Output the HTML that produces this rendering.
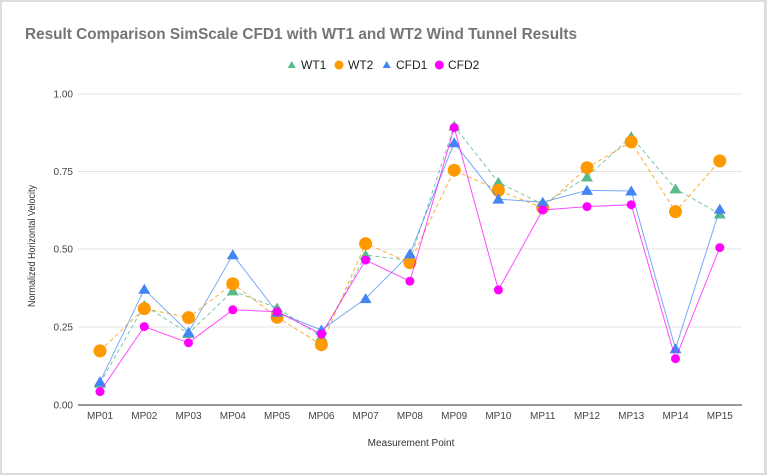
<!DOCTYPE html>
<html><head><meta charset="utf-8"><style>
html,body{margin:0;padding:0;background:#fff;}
svg{display:block;}
text{font-family:"Liberation Sans",Arial,sans-serif;}
</style></head><body>
<svg width="767" height="475" viewBox="0 0 767 475" xmlns="http://www.w3.org/2000/svg">
<rect x="0" y="0" width="767" height="475" fill="#dcdcdc"/>
<rect x="2" y="2" width="762" height="471" fill="#ffffff"/>
<text x="25" y="39" font-size="16" font-weight="bold" fill="#757575" textLength="552" lengthAdjust="spacingAndGlyphs">Result Comparison SimScale CFD1 with WT1 and WT2 Wind Tunnel Results</text>
<!-- legend -->
<polygon points="291.7,61 287.7,68 295.7,68" fill="#57bb8a"/>
<text x="301" y="69" font-size="12" fill="#222">WT1</text>
<circle cx="339" cy="65" r="4.5" fill="#ff9900"/>
<text x="348" y="69" font-size="12" fill="#222">WT2</text>
<polygon points="386.7,61 382.7,68 390.7,68" fill="#4285f4"/>
<text x="396" y="69" font-size="12" fill="#222">CFD1</text>
<circle cx="439.3" cy="65" r="4.5" fill="#ff00ff"/>
<text x="448" y="69" font-size="12" fill="#222">CFD2</text>
<!-- grid -->
<g stroke="#e3e3e3" stroke-width="1">
<line x1="78" y1="94" x2="742" y2="94"/>
<line x1="78" y1="171.5" x2="742" y2="171.5"/>
<line x1="78" y1="249" x2="742" y2="249"/>
<line x1="78" y1="327" x2="742" y2="327"/>
</g>
<line x1="78" y1="405" x2="742" y2="405" stroke="#333" stroke-width="1"/>
<g font-size="10" fill="#444" text-anchor="end">
<text x="73" y="97.5">1.00</text>
<text x="73" y="175">0.75</text>
<text x="73" y="252.5">0.50</text>
<text x="73" y="330.5">0.25</text>
<text x="73" y="408.5">0.00</text>
</g>
<text transform="translate(35,246) rotate(-90)" font-size="10" fill="#333" text-anchor="middle" textLength="122" lengthAdjust="spacingAndGlyphs">Normalized Horizontal Velocity</text>
<g font-size="10" fill="#444" text-anchor="middle">
<text x="100" y="419">MP01</text>
<text x="144.3" y="419">MP02</text>
<text x="188.5" y="419">MP03</text>
<text x="232.8" y="419">MP04</text>
<text x="277.1" y="419">MP05</text>
<text x="321.4" y="419">MP06</text>
<text x="365.6" y="419">MP07</text>
<text x="409.9" y="419">MP08</text>
<text x="454.2" y="419">MP09</text>
<text x="498.4" y="419">MP10</text>
<text x="542.7" y="419">MP11</text>
<text x="587" y="419">MP12</text>
<text x="631.2" y="419">MP13</text>
<text x="675.5" y="419">MP14</text>
<text x="719.8" y="419">MP15</text>
</g>
<text x="411" y="446" font-size="10" fill="#333" text-anchor="middle">Measurement Point</text>

<!-- WT1 -->
<polyline fill="none" stroke="#57bb8a" stroke-width="1" stroke-dasharray="4,3" opacity="0.8" points="100,383.2 144.3,305.5 188.5,333.5 232.8,290.9 277.1,308 321.4,336.6 365.6,255.1 409.9,260.4 454.2,126 498.4,182.3 542.7,204.4 587,177 631.2,136.6 675.5,188.9 719.8,214"/>
<g fill="#57bb8a">
<polygon points="100,377.7 94,387.7 106,387.7"/>
<polygon points="144.3,300 138.3,310 150.3,310"/>
<polygon points="188.5,328 182.5,338 194.5,338"/>
<polygon points="232.8,285.4 226.8,295.4 238.8,295.4"/>
<polygon points="277.1,302.5 271.1,312.5 283.1,312.5"/>
<polygon points="321.4,331.1 315.4,341.1 327.4,341.1"/>
<polygon points="365.6,249.6 359.6,259.6 371.6,259.6"/>
<polygon points="409.9,254.9 403.9,264.9 415.9,264.9"/>
<polygon points="454.2,120.5 448.2,130.5 460.2,130.5"/>
<polygon points="498.4,176.8 492.4,186.8 504.4,186.8"/>
<polygon points="542.7,198.9 536.7,208.9 548.7,208.9"/>
<polygon points="587,171.5 581,181.5 593,181.5"/>
<polygon points="631.2,131.1 625.2,141.1 637.2,141.1"/>
<polygon points="675.5,183.4 669.5,193.4 681.5,193.4"/>
<polygon points="719.8,208.5 713.8,218.5 725.8,218.5"/>
</g>

<!-- WT2 -->
<polyline fill="none" stroke="#ff9900" stroke-width="1" stroke-dasharray="4,3" opacity="0.8" points="100,350.9 144.3,308.6 188.5,317.6 232.8,283.7 277.1,317.3 321.4,344.7 365.6,243.6 409.9,262.6 454.2,170.2 498.4,190.4 542.7,207.8 587,167.7 631.2,141.9 675.5,211.6 719.8,160.9"/>
<g fill="#ff9900">
<circle cx="100" cy="350.9" r="6.5"/>
<circle cx="144.3" cy="308.6" r="6.5"/>
<circle cx="188.5" cy="317.6" r="6.5"/>
<circle cx="232.8" cy="283.7" r="6.5"/>
<circle cx="277.1" cy="317.3" r="6.5"/>
<circle cx="321.4" cy="344.7" r="6.5"/>
<circle cx="365.6" cy="243.6" r="6.5"/>
<circle cx="409.9" cy="262.6" r="6.5"/>
<circle cx="454.2" cy="170.2" r="6.5"/>
<circle cx="498.4" cy="190.4" r="6.5"/>
<circle cx="542.7" cy="207.8" r="6.5"/>
<circle cx="587" cy="167.7" r="6.5"/>
<circle cx="631.2" cy="141.9" r="6.5"/>
<circle cx="675.5" cy="211.6" r="6.5"/>
<circle cx="719.8" cy="160.9" r="6.5"/>
</g>

<!-- CFD1 -->
<polyline fill="none" stroke="#4285f4" stroke-width="1" opacity="0.7" points="100,381.7 144.3,289.3 188.5,332.2 232.8,254.8 277.1,312.3 321.4,330 365.6,298.6 409.9,253.9 454.2,142.8 498.4,199.1 542.7,202.2 587,190.4 631.2,191 675.5,348.7 719.8,209.1"/>
<g fill="#4285f4">
<polygon points="100,376.2 94,386.2 106,386.2"/>
<polygon points="144.3,283.8 138.3,293.8 150.3,293.8"/>
<polygon points="188.5,326.7 182.5,336.7 194.5,336.7"/>
<polygon points="232.8,249.3 226.8,259.3 238.8,259.3"/>
<polygon points="277.1,306.8 271.1,316.8 283.1,316.8"/>
<polygon points="321.4,324.5 315.4,334.5 327.4,334.5"/>
<polygon points="365.6,293.1 359.6,303.1 371.6,303.1"/>
<polygon points="409.9,248.4 403.9,258.4 415.9,258.4"/>
<polygon points="454.2,137.3 448.2,147.3 460.2,147.3"/>
<polygon points="498.4,193.6 492.4,203.6 504.4,203.6"/>
<polygon points="542.7,196.7 536.7,206.7 548.7,206.7"/>
<polygon points="587,184.9 581,194.9 593,194.9"/>
<polygon points="631.2,185.5 625.2,195.5 637.2,195.5"/>
<polygon points="675.5,343.2 669.5,353.2 681.5,353.2"/>
<polygon points="719.8,203.6 713.8,213.6 725.8,213.6"/>
</g>

<!-- CFD2 -->
<polyline fill="none" stroke="#ff00ff" stroke-width="1" opacity="0.7" points="100,391.6 144.3,326.6 188.5,342.8 232.8,309.8 277.1,311.7 321.4,334.1 365.6,260.1 409.9,281.2 454.2,127.6 498.4,289.9 542.7,210 587,206.6 631.2,204.7 675.5,358.7 719.8,247.6"/>
<g fill="#ff00ff">
<circle cx="100" cy="391.6" r="4.5"/>
<circle cx="144.3" cy="326.6" r="4.5"/>
<circle cx="188.5" cy="342.8" r="4.5"/>
<circle cx="232.8" cy="309.8" r="4.5"/>
<circle cx="277.1" cy="311.7" r="4.5"/>
<circle cx="321.4" cy="334.1" r="4.5"/>
<circle cx="365.6" cy="260.1" r="4.5"/>
<circle cx="409.9" cy="281.2" r="4.5"/>
<circle cx="454.2" cy="127.6" r="4.5"/>
<circle cx="498.4" cy="289.9" r="4.5"/>
<circle cx="542.7" cy="210" r="4.5"/>
<circle cx="587" cy="206.6" r="4.5"/>
<circle cx="631.2" cy="204.7" r="4.5"/>
<circle cx="675.5" cy="358.7" r="4.5"/>
<circle cx="719.8" cy="247.6" r="4.5"/>
</g>
</svg>
</body></html>
